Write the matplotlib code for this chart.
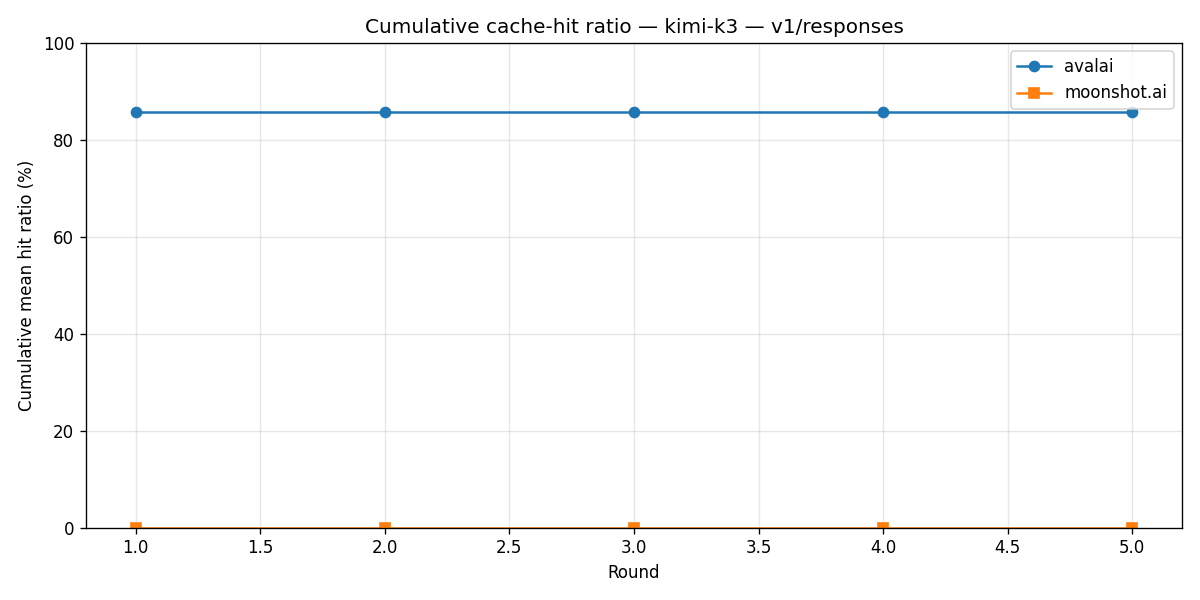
import matplotlib
matplotlib.use("Agg")
import matplotlib.pyplot as plt

rounds = [1, 2, 3, 4, 5]
avalai = [85.8, 85.8, 85.8, 85.8, 85.8]
moonshot = [0.0, 0.0, 0.0, 0.0, 0.0]

fig, ax = plt.subplots(figsize=(10, 5), dpi=120)
ax.plot(rounds, avalai, marker="o", label="avalai")
ax.plot(rounds, moonshot, marker="s", label="moonshot.ai")
ax.set_ylim(0, 100)
ax.set_xlabel("Round")
ax.set_ylabel("Cumulative mean hit ratio (%)")
ax.set_title("Cumulative cache-hit ratio — kimi-k3 — v1/responses")
ax.grid(True, alpha=0.3)
ax.legend(loc="upper right")
fig.tight_layout()
fig.savefig("out.png")
